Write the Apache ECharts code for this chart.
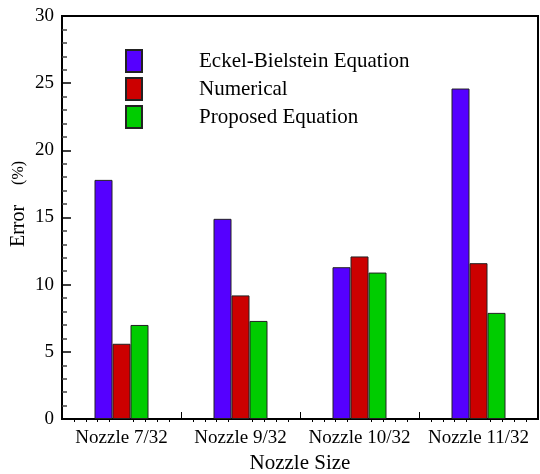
<!DOCTYPE html>
<html>
<head>
<meta charset="utf-8">
<script src="https://cdn.jsdelivr.net/npm/echarts@6/dist/echarts.min.js"></script>
<style>html,body{margin:0;padding:0;background:#fff}#c{width:540px;height:474px}</style>
</head>
<body>
<div id="c"></div>
<script>
var categories = ['Nozzle 7/32', 'Nozzle 9/32', 'Nozzle 10/32', 'Nozzle 11/32'];
var seriesNames = ['Eckel-Bielstein Equation', 'Numerical', 'Proposed Equation'];
var eckel = [17.8, 14.9, 11.3, 24.6];
var numerical = [5.6, 9.2, 12.1, 11.6];
var proposed = [7.0, 7.3, 10.9, 7.9];
var colors = ['#5500ff', '#cc0000', '#00cc00'];
var yTitle = 'Error';
var yUnit = '(%)';

var font = '"Liberation Serif", serif';
var chart = echarts.init(document.getElementById('c'));
function bar(name, data, color) {
  return {
    name: name, type: 'bar', data: data, xAxisIndex: 0, yAxisIndex: 0,
    barWidth: 18, barGap: '0%',
    itemStyle: { color: color, borderColor: '#222', borderWidth: 1 }
  };
}
chart.setOption({
  animation: false,
  grid: {
    left: 62, right: 2, top: 16, bottom: 55, outerBoundsMode: 'none', containLabel: false,
    show: true, borderColor: '#000', borderWidth: 2, backgroundColor: 'transparent'
  },
  legend: {
    orient: 'vertical', left: 125, top: 49, itemWidth: 16, itemHeight: 22, itemGap: 4, padding: 0,
    icon: 'rect',
    textStyle: { fontFamily: font, fontSize: 21, lineHeight: 22, color: '#000', padding: [0, 0, 0, 52] },
    data: seriesNames
  },
  graphic: [{
    type: 'text', x: 19, y: 204, rotation: Math.PI / 2,
    style: {
      text: '{a|' + yTitle + '}{b|' + yUnit + '}',
      align: 'center', verticalAlign: 'middle', fill: '#000',
      fontFamily: font, fontSize: 20,
      rich: {
        a: { fontFamily: font, fontSize: 20, fill: '#000', padding: [0, 20, 0, 0] },
        b: { fontFamily: font, fontSize: 16, fill: '#000' }
      }
    }
  }],
  xAxis: [{
    type: 'category', data: categories, boundaryGap: true,
    axisLine: { show: true, lineStyle: { color: '#000', width: 2 } },
    axisTick: { show: false },
    axisLabel: { fontFamily: font, fontSize: 19, color: '#000', margin: 10, interval: 0 },
    name: 'Nozzle Size', nameLocation: 'middle', nameGap: 32,
    nameTextStyle: { fontFamily: font, fontSize: 21, color: '#000' },
    splitLine: { show: false }
  }, {
    type: 'value', min: 0, max: 8, interval: 1, position: 'bottom',
    axisLine: { show: false },
    axisTick: { show: true, inside: true, length: 7, lineStyle: { color: '#000', width: 1 } },
    minorTick: { show: true, splitNumber: 5, length: -3, lineStyle: { color: '#000', width: 1 } },
    axisLabel: { show: false }, splitLine: { show: false }
  }],
  yAxis: {
    type: 'value', min: 0, max: 30, interval: 5,
    axisLine: { show: true, lineStyle: { color: '#000', width: 2 } },
    axisTick: { show: true, inside: true, length: 9, lineStyle: { color: '#000', width: 1.5 } },
    minorTick: { show: true, splitNumber: 5, length: 5, lineStyle: { color: '#444', width: 1.5 } },
    axisLabel: { fontFamily: font, fontSize: 19, color: '#000', margin: 8 },
    splitLine: { show: false }
  },
  series: [
    bar(seriesNames[0], eckel, colors[0]),
    bar(seriesNames[1], numerical, colors[1]),
    bar(seriesNames[2], proposed, colors[2])
  ]
});
</script>
</body>
</html>
